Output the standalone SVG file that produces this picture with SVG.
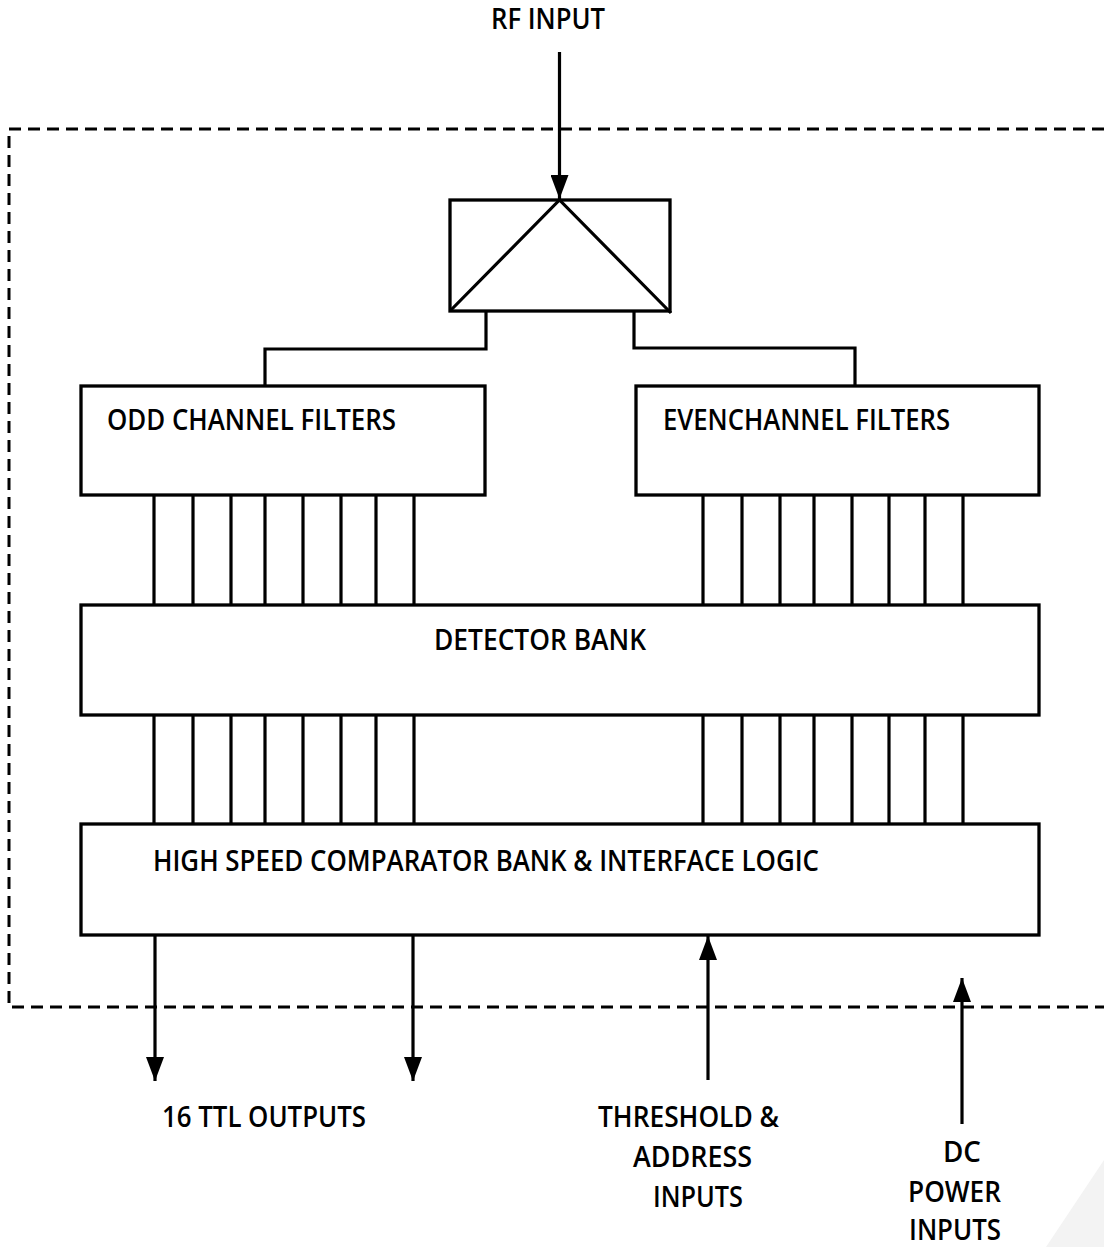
<svg xmlns="http://www.w3.org/2000/svg" width="1104" height="1247" viewBox="0 0 1104 1247">
<defs>
<style>
.box{fill:#fff;stroke:#000;stroke-width:3.3}
.ln{fill:none;stroke:#000;stroke-width:3.2}
.dash{fill:none;stroke:#000;stroke-width:3;stroke-dasharray:12 7}
.t{font-family:"Open Sans","Noto Sans","Liberation Sans",sans-serif;font-size:28px;font-weight:600;fill:#000}
</style>
<marker id="ah" viewBox="0 0 24 18" refX="24" refY="9" markerWidth="24" markerHeight="18" markerUnits="userSpaceOnUse" orient="auto">
<path d="M0,0 L24,9 L0,18 Z" fill="#000"/>
</marker>
</defs>
<rect width="1104" height="1247" fill="#fff"/>
<polygon points="1046,1247 1104,1160 1104,1247" fill="#f3f3f3"/>
<g id="boundary">
<path class="dash" d="M1104,129 H9 V1007 H1104"/>
</g>
<g id="connectors">
<path class="ln" d="M559.5,52 V199" marker-end="url(#ah)"/>
<path class="ln" d="M486,311 V349 H265 V386"/>
<path class="ln" d="M634,311 V348 H855 V386"/>
<path class="ln" d="M154,495 V605 M193,495 V605 M231,495 V605 M265,495 V605 M303,495 V605 M341,495 V605 M376,495 V605 M414,495 V605"/>
<path class="ln" d="M703,495 V605 M742,495 V605 M780,495 V605 M814,495 V605 M852,495 V605 M889,495 V605 M925,495 V605 M963,495 V605"/>
<path class="ln" d="M154,715 V824 M193,715 V824 M231,715 V824 M265,715 V824 M303,715 V824 M341,715 V824 M376,715 V824 M414,715 V824"/>
<path class="ln" d="M703,715 V824 M742,715 V824 M780,715 V824 M814,715 V824 M852,715 V824 M889,715 V824 M925,715 V824 M963,715 V824"/>
<path class="ln" d="M155,935 V1081" marker-end="url(#ah)"/>
<path class="ln" d="M413,935 V1081" marker-end="url(#ah)"/>
<path class="ln" d="M708,1080 V936" marker-end="url(#ah)"/>
<path class="ln" d="M962,1124 V978" marker-end="url(#ah)"/>
</g>
<g id="splitter">
<rect class="box" x="450" y="200" width="220" height="111"/>
<path class="ln" d="M450,311 L559.5,200 L671,313"/>
</g>
<g id="odd">
<rect class="box" x="81" y="386" width="404" height="109"/>
<text class="t" x="107" y="430" textLength="289" lengthAdjust="spacingAndGlyphs">ODD CHANNEL FILTERS</text>
</g>
<g id="even">
<rect class="box" x="636" y="386" width="403" height="109"/>
<text class="t" x="663" y="430" textLength="287" lengthAdjust="spacingAndGlyphs">EVENCHANNEL FILTERS</text>
</g>
<g id="detector">
<rect class="box" x="81" y="605" width="958" height="110"/>
<text class="t" x="434" y="650" textLength="212" lengthAdjust="spacingAndGlyphs">DETECTOR BANK</text>
</g>
<g id="comparator">
<rect class="box" x="81" y="824" width="958" height="111"/>
<text class="t" x="153" y="871" textLength="666" lengthAdjust="spacingAndGlyphs">HIGH SPEED COMPARATOR BANK &amp; INTERFACE LOGIC</text>
</g>
<g id="labels">
<text class="t" x="491" y="29" textLength="114" lengthAdjust="spacingAndGlyphs">RF INPUT</text>
<text class="t" x="162" y="1127" textLength="204" lengthAdjust="spacingAndGlyphs">16 TTL OUTPUTS</text>
<text class="t" x="598" y="1127" textLength="181" lengthAdjust="spacingAndGlyphs">THRESHOLD &amp;</text>
<text class="t" x="633" y="1167" textLength="119" lengthAdjust="spacingAndGlyphs">ADDRESS</text>
<text class="t" x="653" y="1207" textLength="90" lengthAdjust="spacingAndGlyphs">INPUTS</text>
<text class="t" x="943" y="1162" textLength="38" lengthAdjust="spacingAndGlyphs">DC</text>
<text class="t" x="908" y="1202" textLength="93" lengthAdjust="spacingAndGlyphs">POWER</text>
<text class="t" x="909" y="1240" textLength="92" lengthAdjust="spacingAndGlyphs">INPUTS</text>
</g>
</svg>
